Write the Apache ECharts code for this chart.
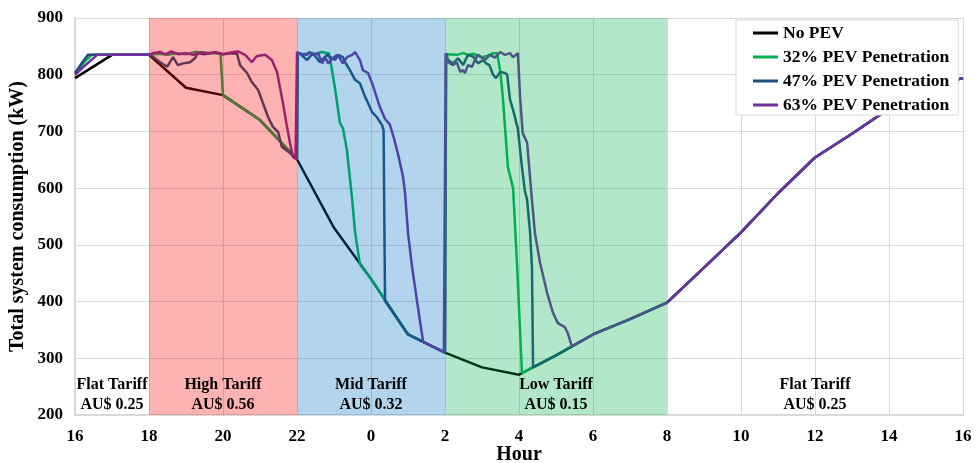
<!DOCTYPE html>
<html>
<head>
<meta charset="utf-8">
<script src="https://cdn.jsdelivr.net/npm/echarts@6/dist/echarts.min.js"></script>
<style>
html,body{margin:0;padding:0;background:#fff;}
#chart{width:976px;height:463px;}
</style>
</head>
<body>
<div id="chart"></div>
<script>
// x values are hours counted from 16:00 (24 = midnight, 40 = 16:00 next day)
const seriesNames = ['No PEV', '32% PEV Penetration', '47% PEV Penetration', '63% PEV Penetration'];
const seriesColors = ['#000000', '#00B050', '#1F4E79', '#7030A0'];

const noPEV = [[16,794],[17,835],[18,835],[19,777],[20,764],[21,720],[22,651],[23,530],[24,440],[25,342],[26,310],[27,284],[28,271],[29,305],[30,342],[31,369],[32,398],[33,460],[34,522],[35,591],[36,654],[37,696],[38,740],[39,778],[40,794]];

const pev32 = [[16,803],[16.25,822],[16.45,835],[18,835],[18.25,837],[18.5,835],[18.75,838],[19,836],[19.25,840],[19.5,839],[19.75,838],[19.93,838],[20,764],[21,720],[22,651],
[22.02,838],[22.2,836],[22.35,839],[22.5,836],[22.65,840],[22.86,838],[22.92,818],[23.03,775],[23.16,715],[23.24,706],[23.35,667],[23.49,580],[23.57,522],[23.70,466],[24,440],[25,342],[26,310],
[26.03,836],[26.08,838],[26.32,835],[26.49,838],[26.62,835],[26.76,837],[27.0,831],[27.14,833],[27.30,838],[27.41,838],[27.5,803],[27.57,755],[27.7,637],[27.84,600],[27.95,461],[28.08,274],[29,305],[30,342],[31,369],[32,398],[33,460],[34,522],[35,591],[36,654],[37,696],[38,740],[39,778],[40,794]];

const pev47 = [[16,803],[16.2,822],[16.35,835],[18,835],[18.08,833],[18.3,822],[18.49,814],[18.65,831],[18.78,817],[18.92,820],[19.11,822],[19.24,829],[19.32,838],[19.5,836],[19.75,839],[20.0,836],[20.2,838],[20.38,837],[20.46,817],[20.65,803],[20.78,787],[20.95,773],[21.08,750],[21.22,725],[21.35,708],[21.49,699],[21.59,673],[21.81,662],[22,651],
[22.02,838],[22.1,836],[22.27,826],[22.43,838],[22.62,822],[22.81,835],[23.03,826],[23.11,835],[23.24,831],[23.30,822],[23.43,808],[23.57,791],[23.70,785],[23.84,761],[23.92,750],[24.03,734],[24.16,725],[24.30,711],[24.34,702],[24.38,401],[25,342],[26,310],
[26.03,838],[26.08,826],[26.22,820],[26.35,829],[26.49,817],[26.62,835],[26.76,832],[26.89,820],[27.03,826],[27.11,820],[27.2,817],[27.3,800],[27.38,794],[27.49,805],[27.62,803],[27.68,800],[27.76,755],[27.84,738],[27.97,704],[28.08,637],[28.16,595],[28.22,579],[28.30,521],[28.35,461],[28.38,284],[29,305],[30,342],[31,369],[32,398],[33,460],[34,522],[35,591],[36,654],[37,696],[38,740],[39,778],[40,794]];

const pev63 = [[16,800],[16.3,818],[16.6,835],[18,835],[18.1,838],[18.3,840],[18.45,836],[18.6,841],[18.8,836],[19.0,838],[19.2,835],[19.4,839],[19.6,837],[19.8,840],[20.0,836],[20.2,839],[20.4,841],[20.6,835],[20.78,822],[20.9,832],[21.0,834],[21.14,835],[21.32,826],[21.46,805],[21.54,778],[21.62,750],[21.73,708],[21.81,680],[21.89,655],[21.96,652],
[22.0,840],[22.08,837],[22.27,835],[22.35,840],[22.43,835],[22.57,838],[22.68,820],[22.76,831],[22.84,820],[22.97,829],[23.08,835],[23.16,829],[23.24,820],[23.35,831],[23.49,835],[23.57,840],[23.70,826],[23.78,808],[23.92,803],[24.03,785],[24.16,759],[24.24,743],[24.38,722],[24.51,712],[24.62,688],[24.73,660],[24.86,622],[24.92,591],[25.0,521],[25.11,461],[25.24,403],[25.32,367],[25.41,329],[25.97,311],
[26.02,838],[26.08,822],[26.22,817],[26.32,822],[26.41,805],[26.49,808],[26.54,803],[26.62,817],[26.73,814],[26.81,826],[26.89,835],[27.08,826],[27.22,835],[27.35,830],[27.49,840],[27.62,835],[27.76,838],[27.84,831],[27.97,838],[28.03,760],[28.1,697],[28.22,680],[28.35,579],[28.43,521],[28.57,468],[28.76,415],[28.92,380],[29.05,362],[29.24,355],[29.32,344],[29.43,321],[30,342],[31,369],[32,398],[33,460],[34,522],[35,591],[36,654],[37,696],[38,740],[39,778],[40,794]];

// tariff periods
const tariffStart = [16, 18, 22, 26, 32];
const tariffEnd = [18, 22, 26, 32, 40];
const tariffLabels = ['Flat Tariff\nAU$ 0.25', 'High Tariff\nAU$ 0.56', 'Mid Tariff\nAU$ 0.32', 'Low Tariff\nAU$ 0.15', 'Flat Tariff\nAU$ 0.25'];
const tariffColors = ['rgba(0,0,0,0)', 'rgba(255,0,0,0.3)', 'rgba(0,112,192,0.3)', 'rgba(0,176,80,0.3)', 'rgba(0,0,0,0)'];

const yTicks = [200, 300, 400, 500, 600, 700, 800, 900];

const FONT = '"Liberation Serif", "Times New Roman", serif';
const chart = echarts.init(document.getElementById('chart'), null, {renderer: 'canvas'});

const lineData = [noPEV, pev32, pev47, pev63];
const series = lineData.map((d, i) => ({
  name: seriesNames[i],
  type: 'line',
  data: d,
  symbol: 'none',
  z: 2,
  lineStyle: {color: seriesColors[i], width: 2.5},
  itemStyle: {color: seriesColors[i]},
  animation: false
}));

series.push({
  name: 'tariffs',
  type: 'line',
  data: [],
  z: 10,
  silent: true,
  animation: false,
  markArea: {
    z: 10,
    silent: true,
    label: {
      show: true,
      position: 'insideBottom',
      distance: 0,
      color: '#000',
      fontFamily: FONT,
      fontWeight: 'bold',
      fontSize: 16,
      lineHeight: 20,
      align: 'center'
    },
    data: tariffStart.map((s, i) => [
      {name: tariffLabels[i], xAxis: s, itemStyle: {color: tariffColors[i]}},
      {xAxis: tariffEnd[i]}
    ])
  }
});

chart.setOption({
  animation: false,
  backgroundColor: '#fff',
  grid: {left: 75, right: 13, top: 18, bottom: 48, containLabel: false, outerBoundsMode: 'none'},
  legend: {
    data: seriesNames,
    orient: 'vertical',
    left: 736,
    top: 20,
    padding: [4, 9, 1, 17],
    itemGap: 6,
    itemWidth: 25,
    itemHeight: 3,
    icon: 'rect',
    z: 20,
    backgroundColor: '#fff',
    borderColor: '#d9d9d9',
    borderWidth: 1,
    textStyle: {fontFamily: FONT, fontWeight: 'bold', fontSize: 17.5, lineHeight: 18, color: '#000'}
  },
  xAxis: {
    type: 'value',
    min: 16,
    max: 40,
    interval: 2,
    name: 'Hour',
    nameLocation: 'middle',
    nameGap: 30,
    nameMoveOverlap: false,
    nameTextStyle: {fontFamily: FONT, fontWeight: 'bold', fontSize: 20, color: '#000'},
    axisLine: {show: true, lineStyle: {color: '#d9d9d9', width: 2}},
    axisTick: {show: false},
    axisLabel: {
      margin: 13,
      fontFamily: FONT, fontWeight: 'bold', fontSize: 17, color: '#000',
      formatter: v => String(v % 24)
    },
    splitLine: {show: true, lineStyle: {color: '#d9d9d9', width: 1}}
  },
  yAxis: {
    type: 'value',
    min: yTicks[0],
    max: yTicks[yTicks.length - 1],
    interval: 100,
    name: 'Total system consumption (kW)',
    nameLocation: 'middle',
    nameGap: 47,
    nameMoveOverlap: false,
    nameTextStyle: {fontFamily: FONT, fontWeight: 'bold', fontSize: 20, color: '#000'},
    axisLine: {show: true, lineStyle: {color: '#d9d9d9', width: 2}},
    axisTick: {show: false},
    axisLabel: {margin: 12, fontFamily: FONT, fontWeight: 'bold', fontSize: 17, color: '#000'},
    splitLine: {show: true, lineStyle: {color: '#d9d9d9', width: 1}}
  },
  series: series
});
</script>
</body>
</html>
